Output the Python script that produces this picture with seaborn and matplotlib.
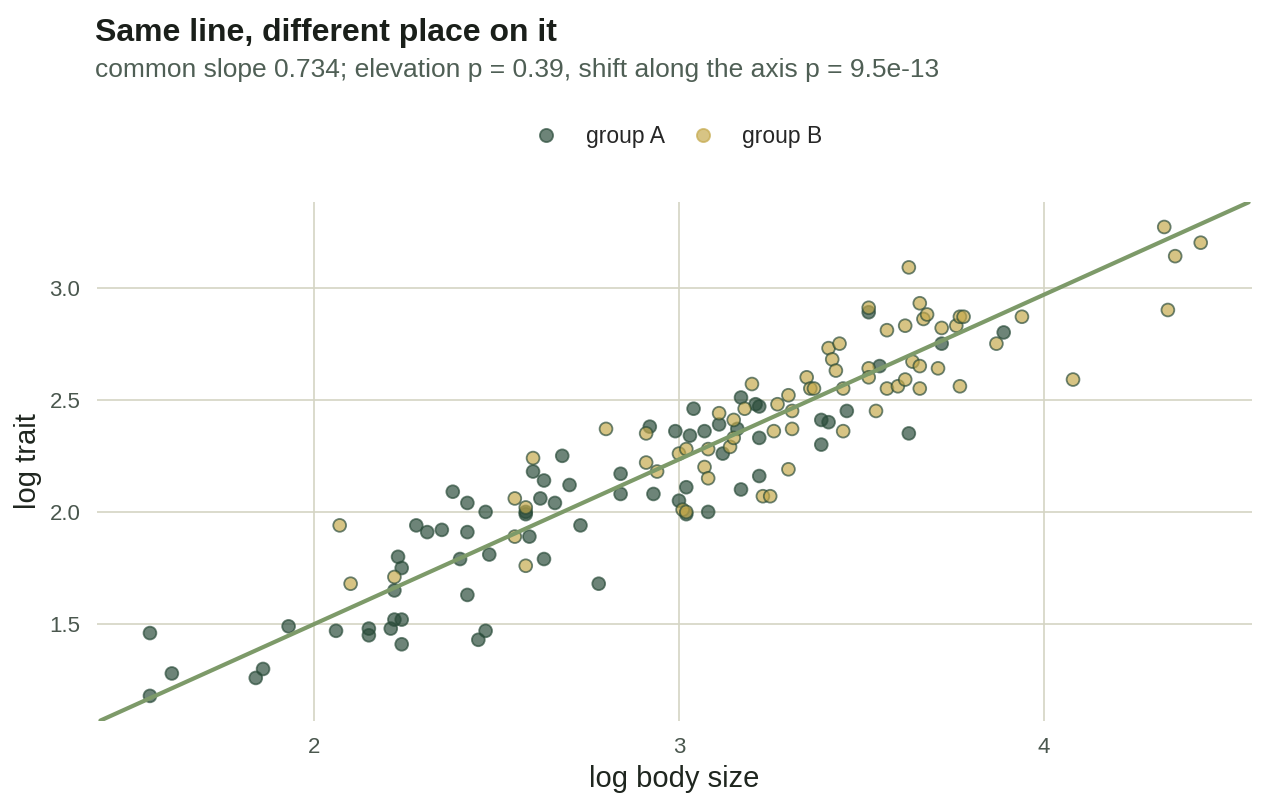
import numpy as np
import pandas as pd
import seaborn as sns
import matplotlib.pyplot as plt

# 读图估计的数据
a_x = [1.55, 1.55, 1.61, 1.84, 1.86, 1.93, 2.06, 2.15, 2.15, 2.21, 2.22, 2.24, 2.24,
       2.22, 2.23, 2.24, 2.28, 2.31, 2.35, 2.38, 2.40, 2.42, 2.42, 2.42, 2.45, 2.47,
       2.47, 2.48, 2.58, 2.58, 2.59, 2.60, 2.62, 2.63, 2.63, 2.66, 2.68, 2.70, 2.73,
       2.78, 2.84, 2.84, 2.92, 2.93, 2.99, 3.00, 3.02, 3.02, 3.03, 3.04, 3.07, 3.08,
       3.11, 3.12, 3.16, 3.17, 3.17, 3.21, 3.22, 3.22, 3.22, 3.39, 3.39, 3.41, 3.46,
       3.52, 3.55, 3.63, 3.72, 3.89]
a_y = [1.46, 1.18, 1.28, 1.26, 1.30, 1.49, 1.47, 1.48, 1.45, 1.48, 1.52, 1.52, 1.41,
       1.65, 1.80, 1.75, 1.94, 1.91, 1.92, 2.09, 1.79, 1.91, 2.04, 1.63, 1.43, 1.47,
       2.00, 1.81, 1.99, 2.00, 1.89, 2.18, 2.06, 2.14, 1.79, 2.04, 2.25, 2.12, 1.94,
       1.68, 2.17, 2.08, 2.38, 2.08, 2.36, 2.05, 2.11, 1.99, 2.34, 2.46, 2.36, 2.00,
       2.39, 2.26, 2.37, 2.10, 2.51, 2.48, 2.47, 2.33, 2.16, 2.41, 2.30, 2.40, 2.45,
       2.89, 2.65, 2.35, 2.75, 2.80]

b_x = [2.07, 2.10, 2.22, 2.55, 2.55, 2.58, 2.58, 2.60, 2.80, 2.91, 2.91, 2.94, 3.00,
       3.02, 3.01, 3.02, 3.07, 3.08, 3.08, 3.11, 3.14, 3.15, 3.15, 3.18, 3.20, 3.23,
       3.25, 3.26, 3.27, 3.30, 3.30, 3.31, 3.31, 3.35, 3.36, 3.37, 3.41, 3.42, 3.43,
       3.44, 3.45, 3.45, 3.52, 3.52, 3.52, 3.54, 3.57, 3.57, 3.60, 3.62, 3.62, 3.63,
       3.64, 3.66, 3.66, 3.67, 3.68, 3.66, 3.71, 3.72, 3.76, 3.77, 3.78, 3.77, 3.87,
       3.94, 4.08, 4.33, 4.34, 4.36, 4.43]
b_y = [1.94, 1.68, 1.71, 2.06, 1.89, 2.02, 1.76, 2.24, 2.37, 2.35, 2.22, 2.18, 2.26,
       2.28, 2.01, 2.00, 2.20, 2.15, 2.28, 2.44, 2.29, 2.41, 2.33, 2.46, 2.57, 2.07,
       2.07, 2.36, 2.48, 2.52, 2.19, 2.37, 2.45, 2.60, 2.55, 2.55, 2.73, 2.68, 2.63,
       2.75, 2.55, 2.36, 2.91, 2.64, 2.60, 2.45, 2.55, 2.81, 2.56, 2.83, 2.59, 3.09,
       2.67, 2.65, 2.93, 2.86, 2.88, 2.55, 2.64, 2.82, 2.83, 2.87, 2.87, 2.56, 2.75,
       2.87, 2.59, 3.27, 2.90, 3.14, 3.20]

slope = 0.734
intercept = 0.032
groups = ['group A', 'group B']
palette = {'group A': '#284a38', 'group B': '#c4a84a'}

df = pd.concat([
    pd.DataFrame({'size': a_x, 'trait': a_y, 'group': 'group A'}),
    pd.DataFrame({'size': b_x, 'trait': b_y, 'group': 'group B'}),
])

sns.set_theme(style='white')
plt.rcParams['font.family'] = ['Liberation Sans', 'DejaVu Sans']

fig = plt.figure(figsize=(12.67, 8.06), dpi=100)
ax = fig.add_axes([0.0766, 0.106, 0.9114, 0.643])

grid_c = '#d4d4c4'
ax.set_axisbelow(True)
ax.grid(True, color=grid_c, linewidth=1.2)

sns.scatterplot(data=df, x='size', y='trait', hue='group', hue_order=groups,
                palette=palette, s=85, alpha=0.68, linewidth=1.3,
                ax=ax, legend=True, zorder=3)
# 边缘颜色与填充相同
for coll, g in zip(ax.collections, groups):
    coll.set_edgecolor(palette[g])

ax.axline((0, intercept), slope=slope, color='#7d9a69', linewidth=3, zorder=4)

ax.set_xlim(1.405, 4.57)
ax.set_ylim(1.07, 3.38)
ax.set_xticks([2, 3, 4])
ax.set_yticks([1.5, 2.0, 2.5, 3.0])
ax.set_yticklabels(['1.5', '2.0', '2.5', '3.0'])
for s in ax.spines.values():
    s.set_visible(False)
ax.tick_params(axis='both', labelsize=16, labelcolor='#4a574e', length=0)
ax.tick_params(axis='x', pad=12)
ax.tick_params(axis='y', pad=12)
ax.set_xlabel('log body size', fontsize=21, color='#1f261f', labelpad=5)
ax.set_ylabel('log trait', fontsize=21, color='#1f261f', labelpad=5)

handles, labels = ax.get_legend_handles_labels()
for h, g in zip(handles, groups):
    h.set_alpha(0.68)
    h.set_markersize(9.5)
    h.set_markeredgewidth(1.3)
    h.set_markeredgecolor(palette[g])
    h.set_markerfacecolor(palette[g])
ax.legend_.remove()
fig.legend(handles, labels, loc='center', bbox_to_anchor=(0.531, 0.831), ncol=2,
           frameon=False, fontsize=16.5, handletextpad=0.74, columnspacing=0.65,
           markerscale=1.0)

fig.text(0.075, 0.959, 'Same line, different place on it', fontsize=23,
         fontweight='bold', color='#1a1f1a', va='center')
fig.text(0.075, 0.913, 'common slope 0.734; elevation p = 0.39, shift along the axis p = 9.5e-13',
         fontsize=19, color='#4f5f55', va='center')

fig.savefig('out.png', dpi=100)
